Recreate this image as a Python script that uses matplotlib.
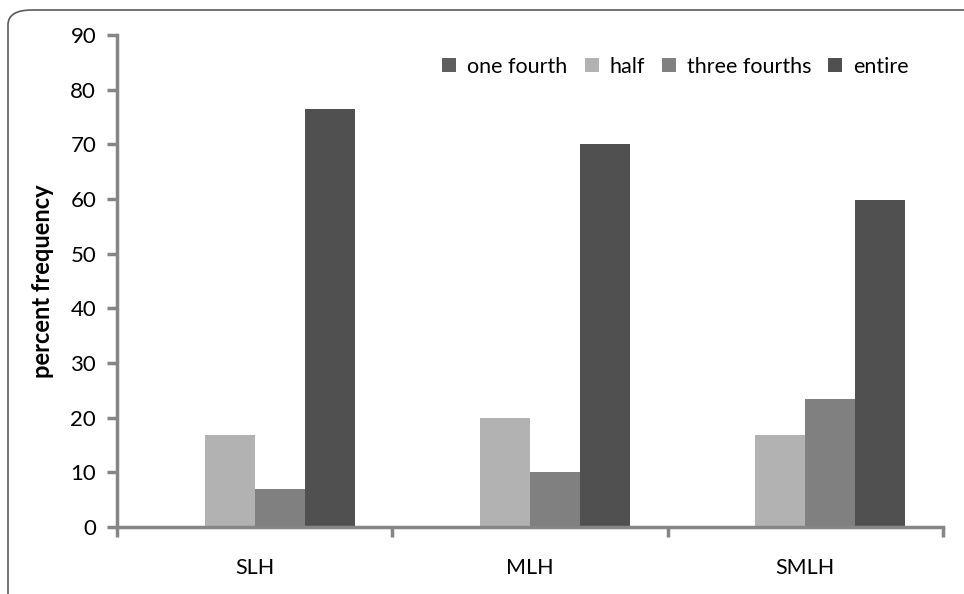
import matplotlib
matplotlib.use("Agg")
import matplotlib.pyplot as plt
from matplotlib.patches import FancyBboxPatch
import numpy as np

plt.rcParams['font.family'] = ['Lato', 'DejaVu Sans']

categories = ["SLH", "MLH", "SMLH"]
series_names = ["one fourth", "half", "three fourths", "entire"]
one_fourth = [0, 0, 0]
half = [16.8, 20.0, 16.8]
three_fourths = [7.0, 10.1, 23.5]
entire = [76.5, 70.1, 59.8]
colors = ["#5f5f5f", "#b2b2b2", "#808080", "#505050"]
yticks = [0, 10, 20, 30, 40, 50, 60, 70, 80, 90]

fig = plt.figure(figsize=(9.64, 5.94), dpi=100)
ax = fig.add_axes([117/964, 1-527/594, (943-117)/964, (527-35)/594])

# outer rounded border (cropped on right/bottom)
W, H = 964, 594
border = FancyBboxPatch((8/W, -40/H), 1100/W, (H-10+40)/H,
                        boxstyle="round,pad=0,rounding_size=0.025",
                        transform=fig.transFigure, fill=False,
                        edgecolor="#5a5a5a", linewidth=1.2, clip_on=False)
fig.patches.append(border)

w = 1/5.5
x = np.arange(len(categories))
data = [one_fourth, half, three_fourths, entire]
for i, (name, vals) in enumerate(zip(series_names, data)):
    ax.bar(x + (i - 1.5) * w, vals, width=w, color=colors[i], label=name, zorder=2)

ax.set_xlim(-0.5, len(categories) - 0.5)
ax.set_ylim(0, 90)
ax.set_yticks(yticks)
ax.set_xticks(x)
ax.set_xticklabels(categories, fontsize=15.5)
ax.tick_params(axis='x', length=0, pad=22)
ax.set_xticks(np.arange(-0.5, len(categories)), minor=True)
ax.tick_params(axis='x', which='minor', length=7, width=2.5, color="#868686", direction='out')
ax.tick_params(axis='y', length=7, width=2.5, color="#868686", direction='out', labelsize=16, pad=8)

for s in ['top', 'right']:
    ax.spines[s].set_visible(False)
for s in ['left', 'bottom']:
    ax.spines[s].set_color("#868686")
    ax.spines[s].set_linewidth(2.5)
    ax.spines[s].set_zorder(3)

ax.set_ylabel("percent frequency", fontsize=17, fontweight='bold', labelpad=12)

leg = ax.legend(loc='upper right', bbox_to_anchor=(0.982, 0.995), ncol=4, frameon=False,
                fontsize=15.5, handlelength=0.65, handleheight=0.65, handletextpad=0.5,
                columnspacing=0.8)

fig.savefig("out.png", dpi=100)
